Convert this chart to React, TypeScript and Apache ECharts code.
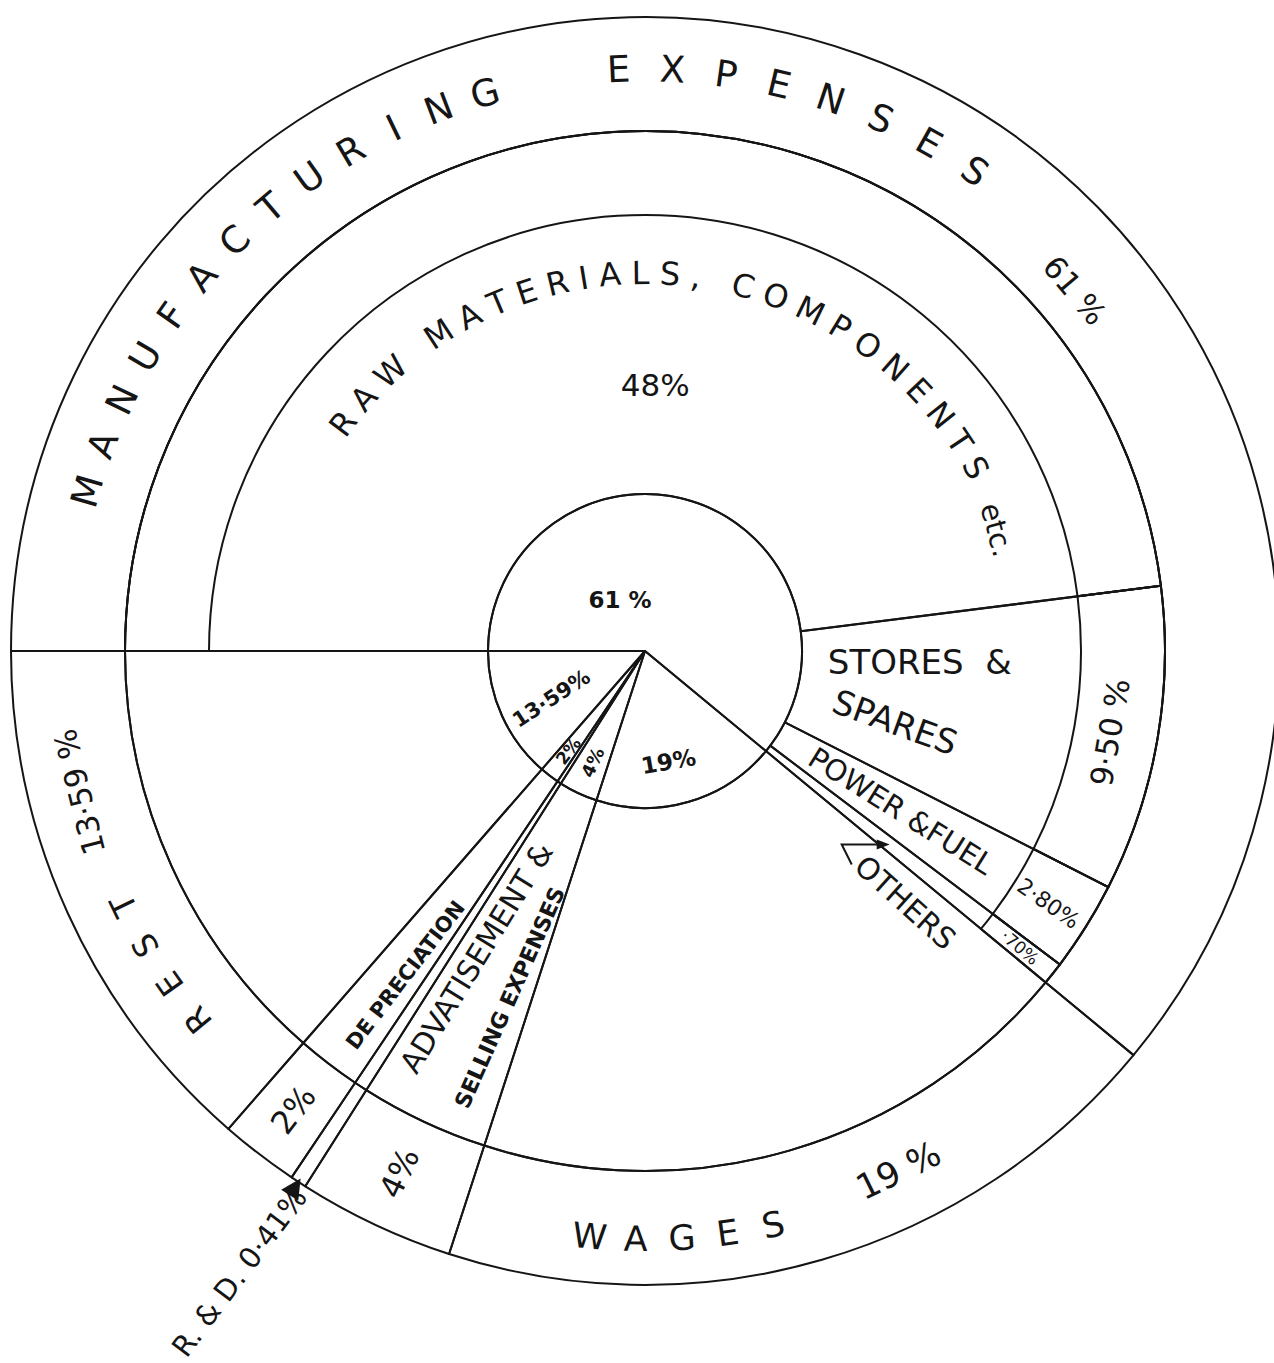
import React, { useEffect, useRef } from "react";
import * as echarts from "echarts";

// ---------- data ----------
const topCategories = [
  "MANUFACTURING EXPENSES",
  "WAGES",
  "ADVATISEMENT & SELLING EXPENSES",
  "R. & D.",
  "DEPRECIATION",
  "REST",
];
const topValues = [61, 19, 4, 0.41, 2, 13.59];
const mfgCategories = ["RAW MATERIALS, COMPONENTS etc.", "STORES & SPARES", "POWER & FUEL", "OTHERS"];
const mfgValues = [48, 9.5, 2.8, 0.7];
const innerLabels = ["61 %", "19%", "4%", "", "2%", "13·59%"];
const outerPctLabels = ["61 %", "19 %", "4%", "0·41%", "2%", "13·59 %"];
const mfgPctLabels = ["48%", "9·50 %", "2·80%", "·70%"];

// ---------- layout ----------
const W = 1274;
const H = 1363;
const CX = 645;
const CY = 651;
const R_IN = 157;
const R_MID = 436;
const R_BAND = 520;
const R_OUT = 634;
const INK = "#151515";
const FONT = '"DejaVu Sans", sans-serif';

const rad = (d: number) => (d * Math.PI) / 180;
const polar = (deg: number, r: number): [number, number] => [CX + r * Math.cos(rad(deg)), CY - r * Math.sin(rad(deg))];

// slice angles (math degrees, starting at 180 and going clockwise)
function sliceAngles(values: number[]) {
  const total = values.reduce((a, b) => a + b, 0);
  let cum = 0;
  return values.map((v) => {
    const a0 = 180 - (cum / total) * 360;
    cum += v;
    const a1 = 180 - (cum / total) * 360;
    return { a0, a1, mid: (a0 + a1) / 2 };
  });
}

let measureCtx: CanvasRenderingContext2D | null = null;
function measure(s: string, size: number, weight = "normal") {
  if (!measureCtx) measureCtx = document.createElement("canvas").getContext("2d");
  measureCtx!.font = `${weight} ${size}px ${FONT}`;
  return measureCtx!.measureText(s).width;
}

function txt(text: string, x: number, y: number, rotDeg: number, size: number, bold = false) {
  return {
    type: "text",
    x,
    y,
    rotation: rad(rotDeg),
    silent: true,
    z: 10,
    style: {
      text,
      fontSize: size,
      fontFamily: FONT,
      fontWeight: bold ? "bold" : "normal",
      fill: INK,
      align: "center",
      verticalAlign: "middle",
    },
  };
}

function ptxt(text: string, deg: number, r: number, rotDeg: number, size: number, bold = false) {
  const [x, y] = polar(deg, r);
  return txt(text, x, y, rotDeg, size, bold);
}

// equal pitch letters on an arc
function arcLetters(str: string, r: number, a0: number, a1: number, size: number, topsOut: boolean) {
  const chars = str.split("");
  const n = chars.length;
  const out: any[] = [];
  chars.forEach((c, i) => {
    if (c === " ") return;
    const a = n === 1 ? a0 : a0 + ((a1 - a0) * i) / (n - 1);
    out.push(ptxt(c, a, r, topsOut ? a - 90 : a + 90, size));
  });
  return out;
}

// width-based letters on an arc, fitted between first and last char centres
function arcTextFit(str: string, r: number, a0: number, a1: number, size: number) {
  const chars = str.split("");
  const n = chars.length;
  const w = chars.map((c) => measure(c, size));
  const centers: number[] = [];
  let acc = 0;
  for (let i = 0; i < n; i++) {
    centers.push(acc + w[i] / 2);
    acc += w[i];
  }
  const natural = centers[n - 1] - centers[0];
  const arcLen = (Math.abs(a1 - a0) * Math.PI * r) / 180;
  const gap = (arcLen - natural) / (n - 1);
  const dir = a1 < a0 ? -1 : 1;
  const out: any[] = [];
  chars.forEach((c, i) => {
    if (c === " ") return;
    const s = centers[i] - centers[0] + gap * i;
    const a = a0 + (dir * s * 180) / (Math.PI * r);
    out.push(ptxt(c, a, r, a - 90, size));
  });
  return out;
}

export default function App() {
  const ref = useRef<HTMLDivElement>(null);

  useEffect(() => {
    document.body.style.margin = "0";
    if (!ref.current) return;
    const chart = echarts.init(ref.current, undefined, { renderer: "svg" });

    const top = sliceAngles(topValues);
    const midValues = [...mfgValues, ...topValues.slice(1)];
    const mids = sliceAngles(midValues);
    const mfg = mids.slice(0, 4);
    const [MAN, WAG, ADV, RD, DEP, REST] = top;

    const line = { color: "rgba(0,0,0,0)", borderColor: INK, borderWidth: 2 };
    const basePie = {
      type: "pie",
      center: [CX, CY],
      startAngle: 180,
      clockwise: true,
      silent: true,
      label: { show: false },
      labelLine: { show: false },
      emphasis: { disabled: true },
      itemStyle: line,
    };

    const graphics: any[] = [];

    // outer ring texts
    graphics.push(...arcLetters("MANUFACTURING", 580, 164, 106, 37, true));
    graphics.push(...arcLetters("EXPENSES", 582, 92.6, 55.5, 37, true));
    graphics.push(ptxt(outerPctLabels[0], 40, 561, -50, 31));
    graphics.push(...arcLetters("WAGES", 588, -95.4, -77.4, 35, false));
    graphics.push(ptxt(outerPctLabels[1], -64, 578, 26, 35));
    graphics.push(ptxt(outerPctLabels[2], ADV.mid, 577, ADV.mid + 180, 32));
    graphics.push(ptxt(outerPctLabels[4], DEP.mid, 578, DEP.mid + 180, 32));
    graphics.push(...arcLetters("REST", 580, 219.5, 206, 33, true));
    graphics.push(ptxt(outerPctLabels[5], 194, 583, 104, 31));

    // R & D outside label with arrow
    graphics.push(ptxt("R. & D. " + outerPctLabels[3], RD.mid, 742, 53, 29));
    {
      const tip = polar(RD.mid, 630);
      const b1 = polar(RD.mid - 0.9, 650);
      const b2 = polar(RD.mid + 0.9, 650);
      graphics.push({ type: "polygon", silent: true, z: 11, shape: { points: [tip, b1, b2] }, style: { fill: INK } });
    }

    // middle region texts (manufacturing breakdown)
    graphics.push(...arcTextFit("RAW MATERIALS, COMPONENTS", 378, 143, 29, 32));
    graphics.push(ptxt("etc.", 19, 372, -75, 29));
    graphics.push(ptxt(mfgPctLabels[0], 87.8, 266, 0, 31));
    graphics.push(ptxt("STORES  &", mfg[1].mid + 7.6, 275, 0, 34));
    graphics.push(ptxt("SPARES", mfg[1].mid - 6, 260, -20, 34));
    graphics.push(ptxt(mfgPctLabels[1], mfg[1].mid, 472, mfg[1].mid + 90, 31));
    graphics.push(ptxt("POWER &FUEL", mfg[2].mid, 302, mfg[2].mid, 29));
    graphics.push(ptxt(mfgPctLabels[2], mfg[2].mid, 476, mfg[2].mid - 3, 22));
    graphics.push(ptxt(mfgPctLabels[3], mfg[3].mid, 478, mfg[3].mid - 2, 17));
    graphics.push(ptxt("OTHERS", -44, 362, -42, 30));
    {
      const tip = polar(mfg[3].mid, 312);
      const tail: [number, number] = [tip[0] - 48, tip[1]];
      const hook: [number, number] = [tail[0] + 10, tail[1] + 20];
      graphics.push({
        type: "polyline",
        silent: true,
        z: 11,
        shape: { points: [hook, tail, [tip[0] - 8, tip[1]]] },
        style: { stroke: INK, lineWidth: 2, fill: null },
      });
      graphics.push({
        type: "polygon",
        silent: true,
        z: 11,
        shape: { points: [tip, [tip[0] - 13, tip[1] - 5], [tip[0] - 13, tip[1] + 5]] },
        style: { fill: INK },
      });
    }

    // lower slices
    graphics.push(ptxt("DE PRECIATION", DEP.mid + 1, 403, DEP.mid + 180, 21, true));
    graphics.push(ptxt("ADVATISEMENT &", -118.8, 350, 58.5, 30));
    graphics.push(ptxt("SELLING EXPENSES", -111.3, 372, 66, 22, true));

    // inner circle texts
    graphics.push(ptxt(innerLabels[0], 116, 57, 0, 23, true));
    graphics.push(ptxt(innerLabels[5], REST.mid + 2.5, 105, 33, 21, true));
    graphics.push(ptxt(innerLabels[4], DEP.mid, 126, DEP.mid + 180, 17, true));
    graphics.push(ptxt(innerLabels[2], ADV.mid, 123, ADV.mid + 180, 18, true));
    graphics.push(ptxt(innerLabels[1], -78, 113, 10, 23, true));

    chart.setOption({
      animation: false,
      backgroundColor: "#ffffff",
      series: [
        {
          ...basePie,
          name: "outer",
          radius: [R_BAND, R_OUT],
          data: topCategories.map((n, i) => ({ name: n, value: topValues[i] })),
        },
        {
          ...basePie,
          name: "middle",
          radius: [R_IN, R_BAND],
          data: [...mfgCategories, ...topCategories.slice(1)].map((n, i) => ({ name: n, value: midValues[i] })),
        },
        {
          ...basePie,
          name: "band",
          radius: [R_MID, R_BAND],
          data: [
            ...mfgCategories.map((n, i) => ({ name: n, value: mfgValues[i] })),
            {
              name: "non-manufacturing",
              value: topValues.slice(1).reduce((a, b) => a + b, 0),
              itemStyle: { color: "rgba(0,0,0,0)", borderWidth: 0 },
            },
          ],
        },
        {
          ...basePie,
          name: "inner",
          radius: [0, R_IN],
          data: topCategories.map((n, i) => ({ name: n, value: topValues[i] })),
        },
      ],
      graphic: { elements: graphics },
    });

    return () => chart.dispose();
  }, []);

  return <div ref={ref} style={{ width: W, height: H }} />;
}
